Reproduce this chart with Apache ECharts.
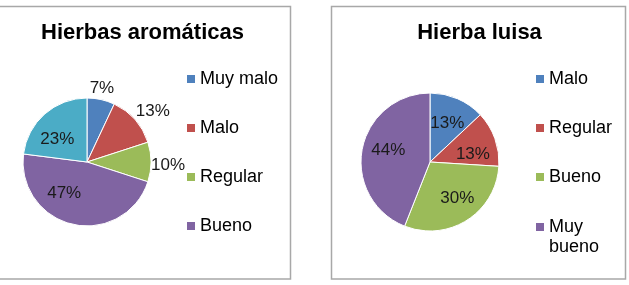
<!DOCTYPE html>
<html><head><meta charset="utf-8">
<script src="https://cdn.jsdelivr.net/npm/echarts@6/dist/echarts.min.js"></script>
<style>
html,body{margin:0;padding:0;background:#fff;}
#l{position:absolute;left:0;top:0;width:314px;height:285px;}
#r{position:absolute;left:314px;top:0;width:315px;height:285px;}
</style>
</head><body>
<div id="l"></div><div id="r"></div>
<script>
// ---- data ----
const leftTitle = 'Hierbas aromáticas';
const leftCategories = ['Muy malo', 'Malo', 'Regular', 'Bueno', 'Muy bueno'];
const leftValues = [7, 13, 10, 47, 23];
const leftLegendItems = ['Muy malo', 'Malo', 'Regular', 'Bueno'];

const rightTitle = 'Hierba luisa';
const rightCategories = ['Malo', 'Regular', 'Bueno', 'Muy bueno'];
const rightValues = [13, 13, 30, 44];
const rightLegendItems = ['Malo', 'Regular', 'Bueno'];
const rightLegendWrapped = ['Muy bueno'];

// ---- styles ----
const FONT = 'Liberation Sans, Arial, sans-serif';
const leftColors = ['#4F81BD', '#C0504D', '#9BBB59', '#8064A2', '#4BACC6'];
const rightColors = ['#4F81BD', '#C0504D', '#9BBB59', '#8064A2'];
const leftLabelModes = ['outside', 'outside', 'outside', 'inside', 'inside'];
const rightLabelModes = ['inside', 'inside', 'inside', 'inside'];
const leftLabelNudge = [[-2, -2], [0, 0], [-1, 3], [-14, -8], [-3, 8]];
const rightLabelNudge = [[0, 1], [2, 7], [4, 0], [1, -4]];

function makeLabelLayout(values, cx, cy, r, modes, nudge) {
  const total = values.reduce((a, b) => a + b, 0);
  return function (p) {
    const i = p.dataIndex;
    let before = 0;
    for (let k = 0; k < i; k++) before += values[k];
    const mid = (before + values[i] / 2) / total * 2 * Math.PI - Math.PI / 2;
    const dx = Math.cos(mid), dy = Math.sin(mid);
    const w = p.labelRect.width, h = p.labelRect.height;
    let x, y;
    if (modes[i] === 'outside') {
      const m = Math.max(Math.abs(dx), Math.abs(dy));
      x = cx + r * dx + (w / 2) * dx / m + dx;
      y = cy + r * dy + (h / 2) * dy / m + dy;
    } else {
      x = cx + 0.63 * r * dx;
      y = cy + 0.63 * r * dy;
    }
    return { x: x + nudge[i][0], y: y + nudge[i][1], align: 'center', verticalAlign: 'middle' };
  };
}

const legendText = { fontFamily: FONT, fontSize: 18, color: '#000', lineHeight: 20 };

function baseLegend(x, items) {
  return {
    orient: 'vertical', left: x, top: 69, padding: 0,
    itemWidth: 8, itemHeight: 8, itemGap: 29, icon: 'rect',
    itemStyle: { borderWidth: 0 }, selectedMode: false,
    data: items, textStyle: legendText
  };
}

function buildOption(cfg) {
  return {
    animation: false,
    color: cfg.colors,
    title: {
      text: cfg.title, left: cfg.titleX, top: 22, textAlign: 'center', padding: 0,
      textStyle: { fontFamily: FONT, fontSize: 22, fontWeight: 'bold', color: '#000' }
    },
    legend: cfg.legends,
    graphic: [{
      type: 'rect', silent: true,
      shape: cfg.frame,
      style: { fill: 'none', stroke: '#a8a8a8', lineWidth: 1.5 }
    }],
    series: [{
      type: 'pie',
      center: [cfg.cx, cfg.cy],
      radius: cfg.r,
      startAngle: 90, clockwise: true,
      avoidLabelOverlap: false,
      emphasis: { disabled: true },
      itemStyle: { borderColor: '#fff', borderWidth: 1 },
      label: {
        show: true, position: 'inside',
        formatter: p => Math.round(p.percent) + '%',
        fontFamily: FONT, fontSize: 17, color: '#1a1a1a'
      },
      labelLine: { show: false },
      labelLayout: makeLabelLayout(cfg.values, cfg.cx, cfg.cy, cfg.r, cfg.modes, cfg.nudge),
      data: cfg.categories.map((c, i) => ({ name: c, value: cfg.values[i] }))
    }]
  };
}

const lc = echarts.init(document.getElementById('l'), null, { renderer: 'canvas' });
lc.setOption(buildOption({
  title: leftTitle, titleX: 142.5,
  legends: [baseLegend(187, leftLegendItems)],
  colors: leftColors, categories: leftCategories, values: leftValues,
  cx: 87, cy: 162, r: 64, modes: leftLabelModes, nudge: leftLabelNudge,
  frame: { x: -2, y: 6.5, width: 292.5, height: 272.5 }
}));

const wrappedLegend = {
  orient: 'vertical', left: 222, top: 217, padding: 0,
  itemWidth: 8, itemHeight: 28,
  // square in the upper part so that it sits beside the first text line
  icon: 'path://M0,0L8,0L8,8L0,8Z M0,27.99L0.01,28L0,28Z',
  itemStyle: { borderWidth: 0 }, selectedMode: false,
  data: rightLegendWrapped,
  formatter: n => n.replace(' ', '\n'),
  textStyle: legendText
};

const rc = echarts.init(document.getElementById('r'), null, { renderer: 'canvas' });
rc.setOption(buildOption({
  title: rightTitle, titleX: 165.5,
  legends: [baseLegend(222, rightLegendItems), wrappedLegend],
  colors: rightColors, categories: rightCategories, values: rightValues,
  cx: 116, cy: 162, r: 69, modes: rightLabelModes, nudge: rightLabelNudge,
  frame: { x: 17.5, y: 6.5, width: 294, height: 272.5 }
}));
</script>
</body></html>
